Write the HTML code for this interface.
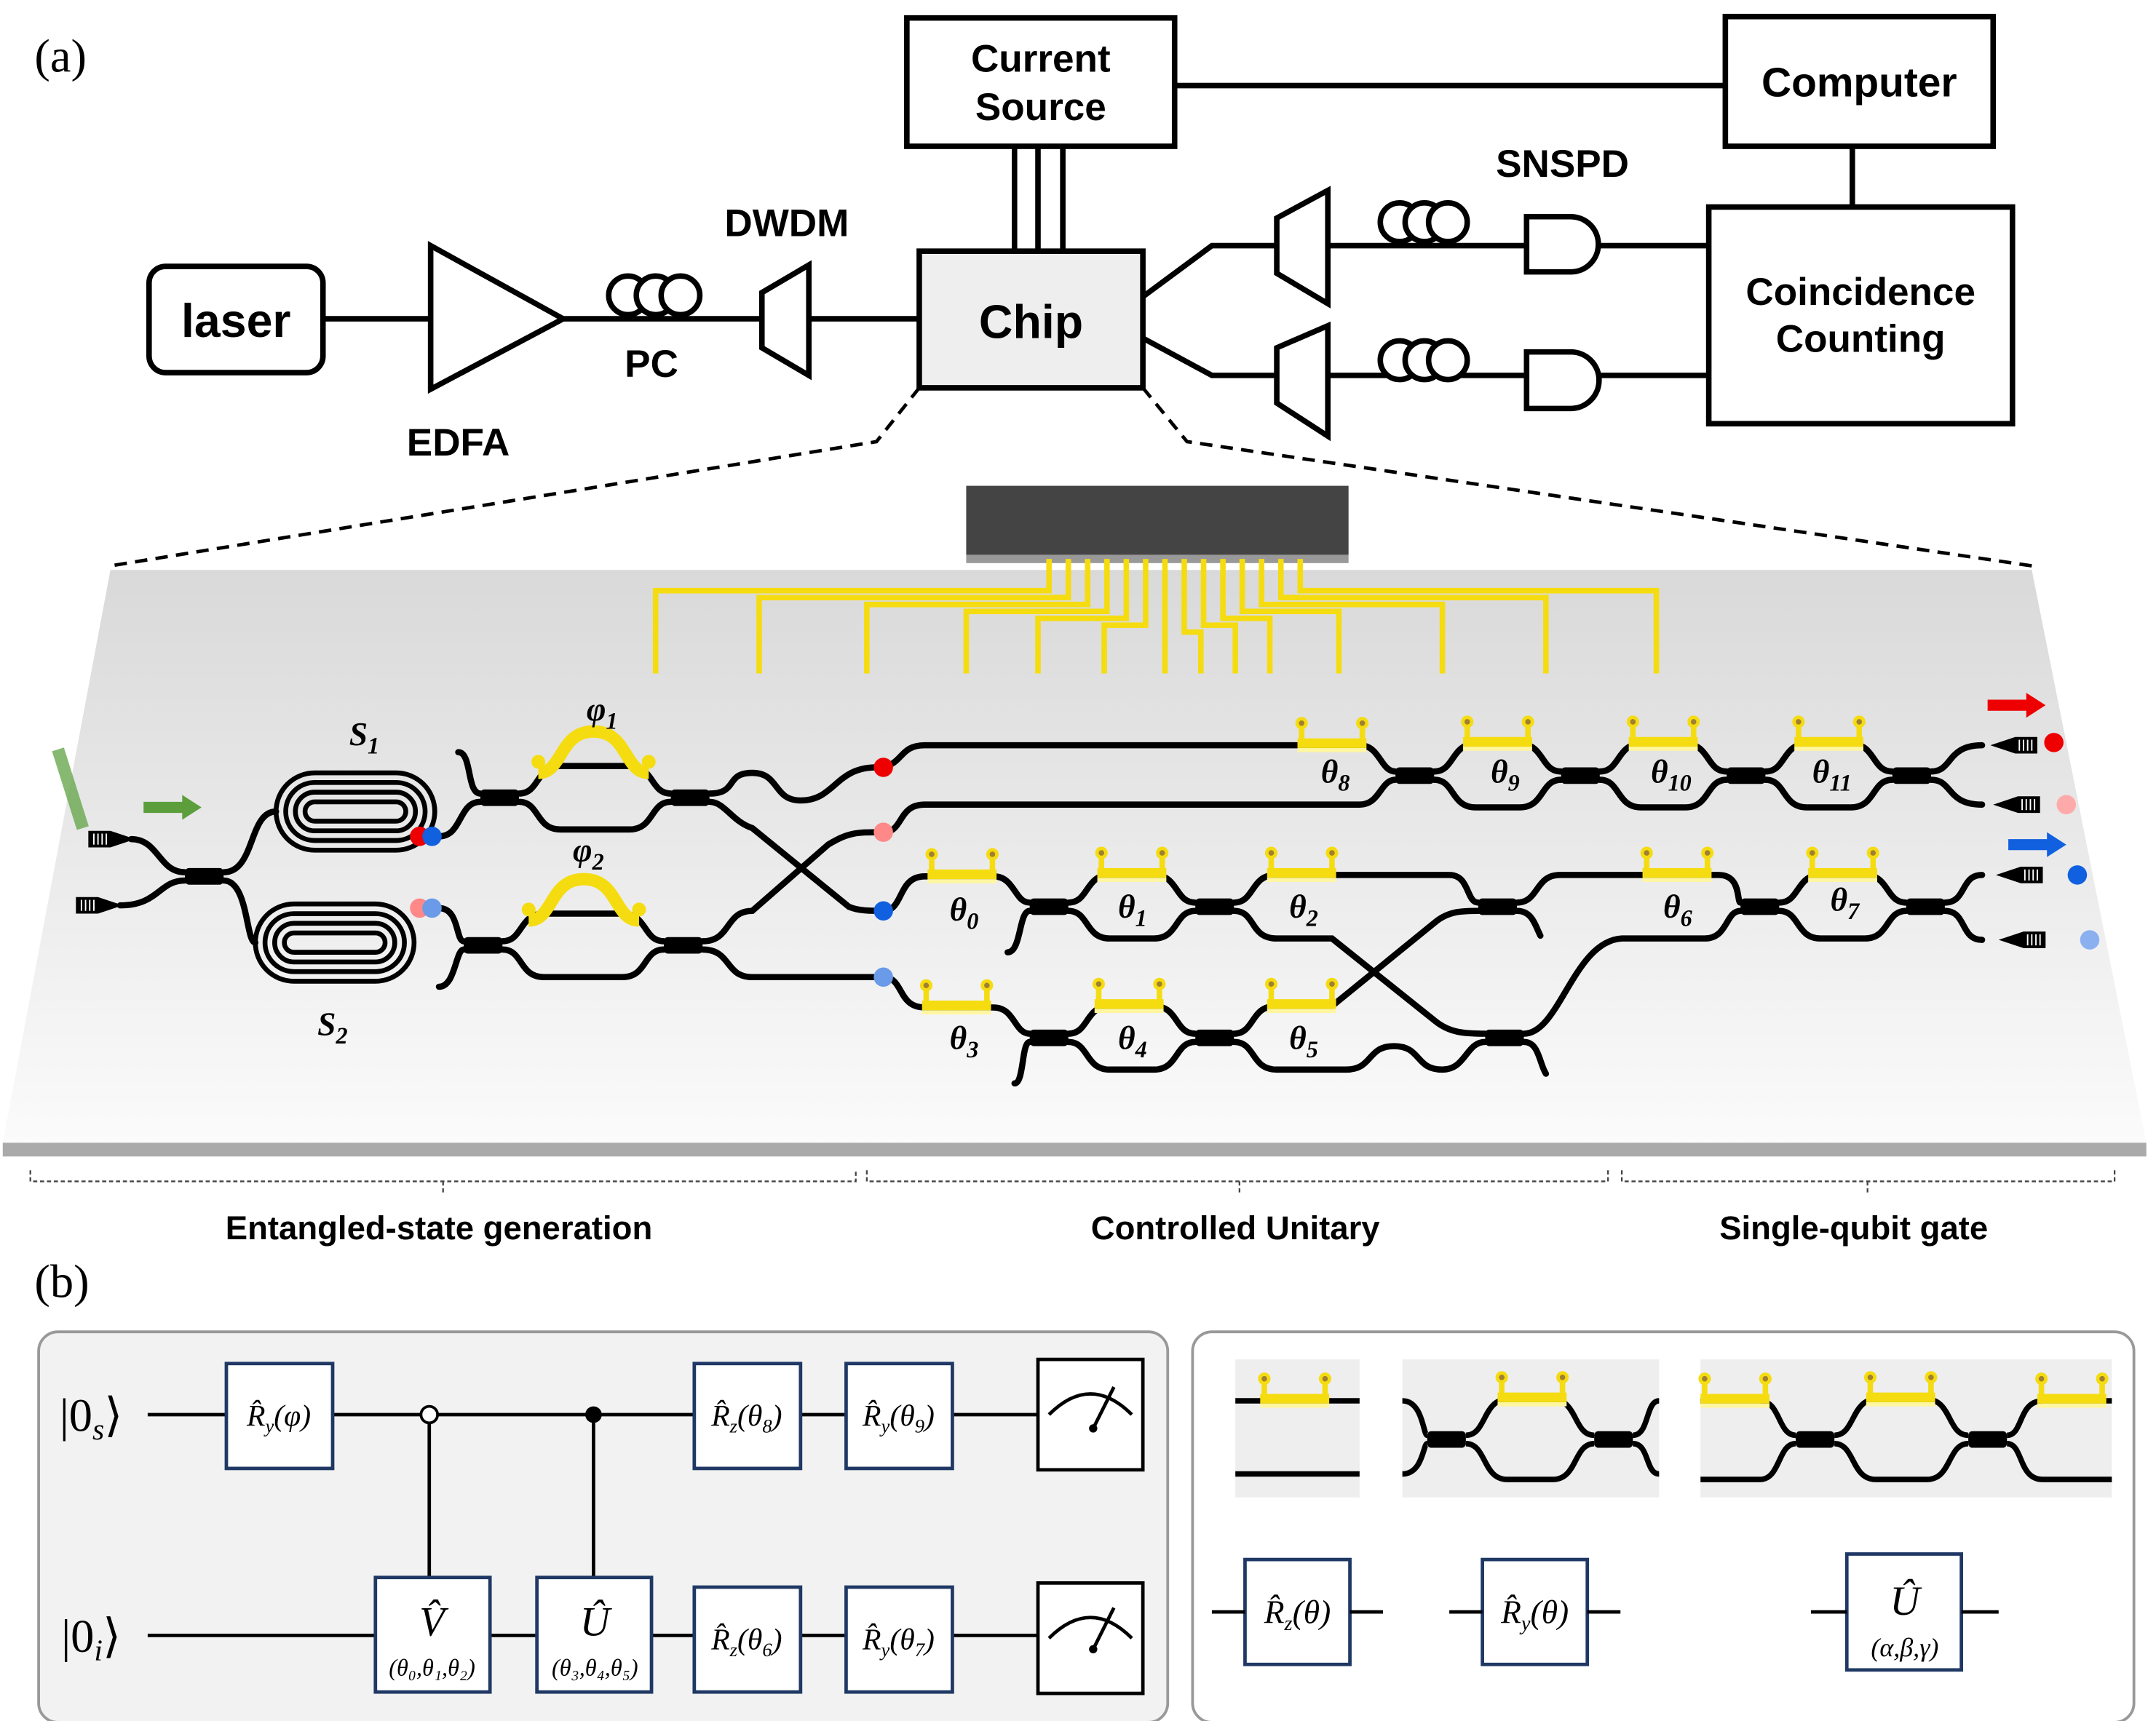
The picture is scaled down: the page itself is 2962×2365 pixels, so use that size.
<!DOCTYPE html>
<html><head><meta charset="utf-8"><style>
html,body{margin:0;padding:0;background:#fff}
svg{display:block}
.sa{font-family:"Liberation Sans","DejaVu Sans",sans-serif;font-weight:bold}
.se{font-family:"Liberation Serif","DejaVu Serif",serif}
</style></head><body>
<svg width="2962" height="2365" viewBox="0 0 1562 1247" preserveAspectRatio="none" xmlns="http://www.w3.org/2000/svg" xmlns:xlink="http://www.w3.org/1999/xlink">
<defs>
<linearGradient id="pl" x1="0" y1="0" x2="0" y2="1">
<stop offset="0" stop-color="#d9d9d9"/><stop offset="1" stop-color="#fbfbfb"/></linearGradient>
<g id="h"><rect x="0" y="-5" width="50" height="7" fill="#f5dc10"/><rect x="0" y="2" width="50" height="3" fill="#fff6a0"/>
<line x1="3" y1="-2" x2="3" y2="-13" stroke="#f5dc10" stroke-width="4"/><line x1="47" y1="-2" x2="47" y2="-13" stroke="#f5dc10" stroke-width="4"/>
<circle cx="3" cy="-16" r="4.5" fill="#f5dc10"/><circle cx="3" cy="-16" r="2" fill="#a08030"/>
<circle cx="47" cy="-16" r="4.5" fill="#f5dc10"/><circle cx="47" cy="-16" r="2" fill="#a08030"/></g>
<rect id="d" x="-14" y="-6" width="28" height="12" rx="3" fill="#000"/>
<g id="gc"><polygon points="0,-6 16,-6 34,0 16,6 0,6" fill="#000"/><g stroke="#fff" stroke-width="1"><line x1="4" y1="-4" x2="4" y2="4"/><line x1="7" y1="-4" x2="7" y2="4"/><line x1="10" y1="-4" x2="10" y2="4"/><line x1="13" y1="-4" x2="13" y2="4"/></g></g>
<g id="gcr"><polygon points="0,-6 -16,-6 -34,0 -16,6 0,6" fill="#000"/><g stroke="#fff" stroke-width="1"><line x1="-4" y1="-4" x2="-4" y2="4"/><line x1="-7" y1="-4" x2="-7" y2="4"/><line x1="-10" y1="-4" x2="-10" y2="4"/><line x1="-13" y1="-4" x2="-13" y2="4"/></g></g>
</defs>
<g fill="none" stroke="#000" stroke-width="4">
<text x="25" y="52" font-size="34" class="se" fill="#000" stroke="none">(a)</text>
<rect x="108" y="193" width="126" height="77" rx="12"/>
<text x="171" y="244" font-size="34" class="sa" fill="#000" stroke="none" text-anchor="middle">laser</text>
<line x1="234" y1="231" x2="312" y2="231"/>
<polygon points="312,178 312,282 408,231"/>
<text x="332" y="330" font-size="28" class="sa" fill="#000" stroke="none" text-anchor="middle">EDFA</text>
<line x1="408" y1="231" x2="552" y2="231"/>
<circle cx="455" cy="214" r="14" fill="#fff"/><circle cx="475" cy="214" r="14" fill="#fff"/><circle cx="493" cy="214" r="14" fill="#fff"/>
<text x="472" y="273" font-size="28" class="sa" fill="#000" stroke="none" text-anchor="middle">PC</text>
<polygon points="552,212 586,192 586,272 552,252" fill="#fff"/>
<text x="570" y="171" font-size="28" class="sa" fill="#000" stroke="none" text-anchor="middle">DWDM</text>
<line x1="586" y1="231" x2="666" y2="231"/>
<rect x="666" y="182" width="162" height="99" fill="#eee"/>
<text x="747" y="245" font-size="34" class="sa" fill="#000" stroke="none" text-anchor="middle">Chip</text>
<rect x="657" y="13" width="194" height="93" fill="#fff"/>
<text x="754" y="52" font-size="28" class="sa" fill="#000" stroke="none" text-anchor="middle">Current</text>
<text x="754" y="87" font-size="28" class="sa" fill="#000" stroke="none" text-anchor="middle">Source</text>
<line x1="735" y1="106" x2="735" y2="182"/><line x1="752" y1="106" x2="752" y2="182"/><line x1="770" y1="106" x2="770" y2="182"/>
<line x1="851" y1="62" x2="1250" y2="62"/>
<rect x="1250" y="12" width="194" height="94"/>
<text x="1347" y="70" font-size="30" class="sa" fill="#000" stroke="none" text-anchor="middle">Computer</text>
<line x1="1342" y1="106" x2="1342" y2="150"/>
<rect x="1238" y="150" width="220" height="157"/>
<text x="1348" y="221" font-size="28" class="sa" fill="#000" stroke="none" text-anchor="middle">Coincidence</text>
<text x="1348" y="255" font-size="28" class="sa" fill="#000" stroke="none" text-anchor="middle">Counting</text>
<polyline points="828,215 878,178 925,178"/><polyline points="828,245 878,272 925,272"/>
<polygon points="925,158 962,138 962,220 925,198" fill="#fff"/>
<polygon points="925,252 962,236 962,316 925,292" fill="#fff"/>
<line x1="962" y1="178" x2="1105" y2="178"/><line x1="962" y1="272" x2="1105" y2="272"/>
<circle cx="1014" cy="161" r="14" fill="#fff"/><circle cx="1032" cy="161" r="14" fill="#fff"/><circle cx="1049" cy="161" r="14" fill="#fff"/>
<circle cx="1014" cy="261" r="14" fill="#fff"/><circle cx="1032" cy="261" r="14" fill="#fff"/><circle cx="1049" cy="261" r="14" fill="#fff"/>
<path d="M1106,157 H1138 A20,20 0 0 1 1138,197 H1106 Z" fill="#fff"/>
<path d="M1106,255 H1138 A20,20 0 0 1 1138,296 H1106 Z" fill="#fff"/>
<line x1="1158" y1="178" x2="1238" y2="178"/><line x1="1158" y1="272" x2="1238" y2="272"/>
<text x="1132" y="128" font-size="28" class="sa" fill="#000" stroke="none" text-anchor="middle">SNSPD</text>
<polyline points="666,281 635,320 80,410" stroke-width="2.5" stroke-dasharray="9,6"/>
<polyline points="828,281 860,320 1472,410" stroke-width="2.5" stroke-dasharray="9,6"/>
</g>
<!-- platform -->
<polygon points="80,413 1472,413 1555,828 2,828" fill="url(#pl)"/>
<polygon points="2,828 1555,828 1555,838 2,838" fill="#aaa"/>
<rect x="700" y="352" width="277" height="50" fill="#444"/>
<rect x="700" y="402" width="277" height="6" fill="#999"/>
<!-- wires -->
<g fill="none" stroke="#f5dc10" stroke-width="4">
<path d="M760,405 V428 H475 V488"/><path d="M774,405 V433 H550 V488"/><path d="M788,405 V438 H628 V488"/>
<path d="M802,405 V443 H700 V488"/><path d="M816,405 V448 H752 V488"/><path d="M830,405 V453 H800 V488"/>
<path d="M844,405 V488"/><path d="M858,405 V458 H870 V488"/><path d="M872,405 V453 H895 V488"/>
<path d="M886,405 V448 H920 V488"/><path d="M900,405 V443 H970 V488"/><path d="M914,405 V438 H1045 V488"/>
<path d="M928,405 V433 H1120 V488"/><path d="M942,405 V428 H1200 V488"/>
</g>
<!-- waveguides -->
<g fill="none" stroke="#000" stroke-width="4.5" stroke-linecap="round">
<path d="M95,608 C115,608 115,632 134,632"/><path d="M87,656 C115,656 115,638 134,638"/>
<path d="M162,632 C185,632 180,588 200,588"/><path d="M162,638 C180,638 178,683 185,683"/>
<path d="M318,606 C335,606 332,581 348,581"/><path d="M332,545 C342,545 338,575 348,575"/>
<path d="M376,575 C391,575 388,555 406,555 L456,555 C474,555 471,575 486,575"/>
<path d="M376,581 C391,581 388,601 406,601 L456,601 C474,601 471,581 486,581"/>
<path d="M318,658 C333,658 330,682 336,682"/><path d="M318,715 C330,715 330,688 336,688"/>
<path d="M364,682 C379,682 376,662 394,662 L451,662 C469,662 466,682 481,682"/>
<path d="M364,688 C379,688 376,708 394,708 L451,708 C469,708 466,688 481,688"/>
<path d="M514,575 C535,575 525,560 545,560 C565,560 560,580 580,580 C605,580 605,556 635,556 C655,556 650,540 670,540 L985,540 C1000,540 1000,559 1011,559"/>
<path d="M514,581 C525,581 530,595 545,600 L615,657 C622,660 630,660 640,660 C655,660 650,635 670,635 L720,635 C735,635 735,654 746,654"/>
<path d="M509,682 C530,682 525,660 545,660 L600,612 C615,603 620,603 640,603 C655,603 650,583 670,583 L985,583 C1000,583 1000,565 1011,565"/>
<path d="M509,688 C530,688 525,708 545,708 L640,708 C655,708 650,730 670,730 L720,730 C735,730 735,749 746,749"/>
<path d="M730,690 C740,690 738,660 746,660"/><path d="M735,785 C742,785 740,755 746,755"/>
<!-- row A -->
<path d="M1039,559 C1054,559 1051,539 1069,539 L1101,539 C1119,539 1116,559 1131,559"/>
<path d="M1039,565 C1054,565 1051,585 1069,585 L1101,585 C1119,585 1116,565 1131,565"/>
<path d="M1159,559 C1174,559 1171,539 1189,539 L1221,539 C1239,539 1236,559 1251,559"/>
<path d="M1159,565 C1174,565 1171,585 1189,585 L1221,585 C1239,585 1236,565 1251,565"/>
<path d="M1279,559 C1294,559 1291,539 1309,539 L1341,539 C1359,539 1356,559 1371,559"/>
<path d="M1279,565 C1294,565 1291,585 1309,585 L1341,585 C1359,585 1356,565 1371,565"/>
<path d="M1399,559 C1415,559 1410,540 1436,540"/><path d="M1399,565 C1415,565 1410,583 1436,583"/>
<!-- row B -->
<path d="M774,654 C789,654 786,634 804,634 L836,634 C854,634 851,654 866,654"/>
<path d="M774,660 C789,660 786,680 804,680 L836,680 C854,680 851,660 866,660"/>
<path d="M894,654 C909,654 906,634 924,634 L1050,634 C1065,634 1062,654 1071,654"/>
<path d="M894,660 C910,660 905,680 925,680 L965,680 L1040,740 C1050,748 1060,749 1076,749"/>
<path d="M1099,654 C1115,654 1112,634 1130,634 L1245,634 C1262,634 1258,654 1261,654"/>
<path d="M1104,749 C1130,749 1140,682 1175,680 L1235,680 C1252,680 1250,660 1261,660"/>
<path d="M1289,654 C1304,654 1301,634 1319,634 L1351,634 C1369,634 1366,654 1381,654"/>
<path d="M1289,660 C1304,660 1301,680 1319,680 L1351,680 C1369,680 1366,660 1381,660"/>
<path d="M1409,654 C1425,654 1420,634 1436,634"/><path d="M1409,660 C1425,660 1420,681 1436,681"/>
<!-- row C -->
<path d="M774,749 C789,749 786,729 804,729 L836,729 C854,729 851,749 866,749"/>
<path d="M774,755 C789,755 786,775 804,775 L836,775 C854,775 851,755 866,755"/>
<path d="M894,749 C909,749 906,729 924,729 L965,729 L1040,668 C1050,660 1060,660 1071,660"/>
<path d="M894,755 C910,755 906,775 925,775 L975,775 C995,775 990,758 1010,758 C1030,758 1025,775 1045,775 C1062,775 1062,755 1076,755"/>
<path d="M1099,660 C1110,660 1112,670 1116,678"/><path d="M1104,755 C1115,755 1115,770 1120,778"/>
</g>
<g>
<use xlink:href="#d" x="148" y="635"/><use xlink:href="#d" x="362" y="578"/><use xlink:href="#d" x="500" y="578"/>
<use xlink:href="#d" x="350" y="685"/><use xlink:href="#d" x="495" y="685"/>
<use xlink:href="#d" x="1025" y="562"/><use xlink:href="#d" x="1145" y="562"/><use xlink:href="#d" x="1265" y="562"/><use xlink:href="#d" x="1385" y="562"/>
<use xlink:href="#d" x="760" y="657"/><use xlink:href="#d" x="880" y="657"/><use xlink:href="#d" x="1085" y="657"/>
<use xlink:href="#d" x="1275" y="657"/><use xlink:href="#d" x="1395" y="657"/>
<use xlink:href="#d" x="760" y="752"/><use xlink:href="#d" x="880" y="752"/><use xlink:href="#d" x="1090" y="752"/>
</g>
<!-- heaters -->
<g>
<use xlink:href="#h" x="940" y="540"/><use xlink:href="#h" x="1060" y="539"/><use xlink:href="#h" x="1180" y="539"/><use xlink:href="#h" x="1300" y="539"/>
<use xlink:href="#h" x="672" y="635"/><use xlink:href="#h" x="795" y="634"/><use xlink:href="#h" x="918" y="634"/><use xlink:href="#h" x="1190" y="634"/><use xlink:href="#h" x="1310" y="634"/>
<use xlink:href="#h" x="668" y="730"/><use xlink:href="#h" x="793" y="729"/><use xlink:href="#h" x="918" y="729"/>
</g>
<g fill="none" stroke="#f5dc10" stroke-width="9">
<path d="M390,560 C408,560 405,530 430,530 C455,530 452,560 470,560"/>
<path d="M383,667 C401,667 398,637 423,637 C448,637 445,667 463,667"/>
</g>
<g fill="#f5dc10"><circle cx="390" cy="552" r="5"/><circle cx="470" cy="552" r="5"/><circle cx="383" cy="659" r="5"/><circle cx="463" cy="659" r="5"/></g>
<!-- spirals -->
<g fill="none" stroke="#000" stroke-width="3.5">
<rect x="200" y="560" width="115" height="56" rx="28"/><rect x="207" y="567" width="101" height="42" rx="21"/><rect x="214" y="574" width="87" height="28" rx="14"/><rect x="221" y="581" width="73" height="14" rx="7"/>
<rect x="185" y="655" width="115" height="56" rx="28"/><rect x="192" y="662" width="101" height="42" rx="21"/><rect x="199" y="669" width="87" height="28" rx="14"/><rect x="206" y="676" width="73" height="14" rx="7"/>
</g>
<use xlink:href="#gc" x="64" y="608"/><use xlink:href="#gc" x="55" y="656"/>
<use xlink:href="#gcr" x="1476" y="540"/><use xlink:href="#gcr" x="1478" y="583"/><use xlink:href="#gcr" x="1480" y="634"/><use xlink:href="#gcr" x="1482" y="681"/>
<line x1="42" y1="543" x2="60" y2="600" stroke="#6aa84f" stroke-width="9" opacity="0.8"/>
<polygon points="104,581 132,581 132,576 146,585 132,594 132,589 104,589" fill="#5c9e3c"/>
<polygon points="1440,507 1468,507 1468,502 1482,511 1468,520 1468,515 1440,515" fill="#e00"/>
<polygon points="1455,608 1483,608 1483,603 1497,612 1483,621 1483,616 1455,616" fill="#1060e0"/>
<g>
<circle cx="304" cy="606" r="7" fill="#e00"/><circle cx="313" cy="606" r="7" fill="#1060e0"/>
<circle cx="304" cy="658" r="7" fill="#f88"/><circle cx="313" cy="658" r="7" fill="#6a9ae8"/>
<circle cx="640" cy="556" r="7" fill="#e00"/><circle cx="640" cy="603" r="7" fill="#f88"/>
<circle cx="640" cy="660" r="7" fill="#1060e0"/><circle cx="640" cy="708" r="7" fill="#6a9ae8"/>
<circle cx="1488" cy="538" r="7" fill="#e00"/><circle cx="1497" cy="583" r="7" fill="#faa"/>
<circle cx="1505" cy="634" r="7" fill="#1060e0"/><circle cx="1514" cy="681" r="7" fill="#8ab0f0"/>
</g>
<g class="se" font-style="italic" font-weight="bold" font-size="24" fill="#000">
<text x="253" y="540">S<tspan font-size="17" dy="6">1</tspan></text>
<text x="230" y="750">S<tspan font-size="17" dy="6">2</tspan></text>
<text x="425" y="522">φ<tspan font-size="17" dy="6">1</tspan></text>
<text x="415" y="624">φ<tspan font-size="17" dy="6">2</tspan></text>
<text x="688" y="667">θ<tspan font-size="17" dy="6">0</tspan></text>
<text x="810" y="665">θ<tspan font-size="17" dy="6">1</tspan></text>
<text x="934" y="665">θ<tspan font-size="17" dy="6">2</tspan></text>
<text x="688" y="760">θ<tspan font-size="17" dy="6">3</tspan></text>
<text x="810" y="760">θ<tspan font-size="17" dy="6">4</tspan></text>
<text x="934" y="760">θ<tspan font-size="17" dy="6">5</tspan></text>
<text x="1205" y="665">θ<tspan font-size="17" dy="6">6</tspan></text>
<text x="1326" y="660">θ<tspan font-size="17" dy="6">7</tspan></text>
<text x="957" y="567">θ<tspan font-size="17" dy="6">8</tspan></text>
<text x="1080" y="567">θ<tspan font-size="17" dy="6">9</tspan></text>
<text x="1196" y="567">θ<tspan font-size="17" dy="6">10</tspan></text>
<text x="1313" y="567">θ<tspan font-size="17" dy="6">11</tspan></text>
</g>
<g fill="none" stroke="#444" stroke-width="1.2" stroke-dasharray="3,2">
<polyline points="22,848 22,856 620,856 620,848"/><line x1="321" y1="856" x2="321" y2="864"/>
<polyline points="628,848 628,856 1165,856 1165,848"/><line x1="898" y1="856" x2="898" y2="864"/>
<polyline points="1175,848 1175,856 1532,856 1532,848"/><line x1="1353" y1="856" x2="1353" y2="864"/>
</g>
<g font-size="24" class="sa" fill="#000" text-anchor="middle">
<text x="318" y="898">Entangled-state generation</text>
<text x="895" y="898">Controlled Unitary</text>
<text x="1343" y="898">Single-qubit gate</text>
</g>
<text x="25" y="940" font-size="34" class="se" fill="#000">(b)</text>
<rect x="28" y="965" width="818" height="283" rx="14" fill="#f2f2f2" stroke="#999" stroke-width="2"/>
<rect x="864" y="965" width="682" height="283" rx="14" fill="#fff" stroke="#999" stroke-width="2"/>
<g stroke="#000" stroke-width="2.5" fill="none">
<line x1="107" y1="1025" x2="752" y2="1025"/><line x1="107" y1="1185" x2="752" y2="1185"/>
<line x1="311" y1="1025" x2="311" y2="1143"/><line x1="430" y1="1025" x2="430" y2="1143"/>
</g>
<circle cx="311" cy="1025" r="6" fill="#fff" stroke="#000" stroke-width="2"/>
<circle cx="430" cy="1025" r="6" fill="#000"/>
<g fill="#fff" stroke="#1f3864" stroke-width="2.5">
<rect x="164" y="988" width="77" height="76"/><rect x="503" y="988" width="77" height="76"/><rect x="613" y="988" width="77" height="76"/>
<rect x="272" y="1143" width="83" height="83"/><rect x="389" y="1143" width="83" height="83"/>
<rect x="503" y="1150" width="77" height="76"/><rect x="613" y="1150" width="77" height="76"/>
<rect x="902" y="1130" width="76" height="76"/><rect x="1074" y="1130" width="76" height="76"/><rect x="1338" y="1126" width="83" height="84"/>
</g>
<g stroke="#000" stroke-width="2.5" fill="#fff">
<rect x="752" y="985" width="76" height="80"/><rect x="752" y="1147" width="76" height="80"/>
<path d="M760,1025 Q790,995 820,1025" fill="none"/><line x1="792" y1="1035" x2="807" y2="1005"/>
<path d="M760,1187 Q790,1157 820,1187" fill="none"/><line x1="792" y1="1195" x2="807" y2="1165"/>
<line x1="878" y1="1168" x2="902" y2="1168"/><line x1="978" y1="1168" x2="1002" y2="1168"/>
<line x1="1050" y1="1168" x2="1074" y2="1168"/><line x1="1150" y1="1168" x2="1174" y2="1168"/>
<line x1="1312" y1="1168" x2="1338" y2="1168"/><line x1="1421" y1="1168" x2="1448" y2="1168"/>
</g>
<circle cx="792" cy="1035" r="3" fill="#000"/><circle cx="792" cy="1195" r="3" fill="#000"/>
<g class="se" font-style="italic" fill="#000" text-anchor="middle">
<text x="66" y="1037" font-size="34" font-style="normal">|0<tspan font-style="italic" font-size="22" dy="6">s</tspan><tspan dy="-6">⟩</tspan></text>
<text x="66" y="1197" font-size="34" font-style="normal">|0<tspan font-style="italic" font-size="22" dy="6">i</tspan><tspan dy="-6">⟩</tspan></text>
<text x="202" y="1033" font-size="22">R̂<tspan font-size="14" dy="5">y</tspan><tspan dy="-5">(φ)</tspan></text>
<text x="541" y="1033" font-size="22">R̂<tspan font-size="14" dy="5">z</tspan><tspan dy="-5">(θ</tspan><tspan font-size="14" dy="5">8</tspan><tspan dy="-5">)</tspan></text>
<text x="651" y="1033" font-size="22">R̂<tspan font-size="14" dy="5">y</tspan><tspan dy="-5">(θ</tspan><tspan font-size="14" dy="5">9</tspan><tspan dy="-5">)</tspan></text>
<text x="541" y="1195" font-size="22">R̂<tspan font-size="14" dy="5">z</tspan><tspan dy="-5">(θ</tspan><tspan font-size="14" dy="5">6</tspan><tspan dy="-5">)</tspan></text>
<text x="651" y="1195" font-size="22">R̂<tspan font-size="14" dy="5">y</tspan><tspan dy="-5">(θ</tspan><tspan font-size="14" dy="5">7</tspan><tspan dy="-5">)</tspan></text>
<text x="313" y="1185" font-size="30">V̂</text>
<text x="313" y="1214" font-size="17">(θ₀,θ₁,θ₂)</text>
<text x="431" y="1185" font-size="30">Û</text>
<text x="431" y="1214" font-size="17">(θ₃,θ₄,θ₅)</text>
<text x="940" y="1176" font-size="24">R̂<tspan font-size="15" dy="5">z</tspan><tspan dy="-5">(θ)</tspan></text>
<text x="1112" y="1176" font-size="24">R̂<tspan font-size="15" dy="5">y</tspan><tspan dy="-5">(θ)</tspan></text>
<text x="1380" y="1170" font-size="30">Û</text>
<text x="1380" y="1200" font-size="19">(α,β,γ)</text>
</g>
<!-- right panel icons -->
<rect x="895" y="985" width="90" height="100" fill="#eee"/>
<rect x="1016" y="985" width="186" height="100" fill="#eee"/>
<rect x="1232" y="985" width="298" height="100" fill="#eee"/>
<g fill="none" stroke="#000" stroke-width="4">
<path d="M895,1015 H985"/><path d="M895,1068 H985"/>
<path d="M1016,1015 C1031,1015 1031,1040 1034,1040"/><path d="M1016,1068 C1031,1068 1031,1046 1034,1046"/>
<path d="M1062,1040 C1077,1040 1074,1014 1092,1014 L1125,1014 C1143,1014 1140,1040 1155,1040"/>
<path d="M1062,1046 C1077,1046 1074,1072 1092,1072 L1125,1072 C1143,1072 1140,1046 1155,1046"/>
<path d="M1183,1040 C1195,1040 1192,1015 1202,1015"/><path d="M1183,1046 C1195,1046 1192,1068 1202,1068"/>
<path d="M1232,1015 H1275 C1290,1015 1288,1040 1301,1040"/><path d="M1232,1072 H1275 C1290,1072 1288,1046 1301,1046"/>
<path d="M1329,1040 C1344,1040 1341,1014 1359,1014 L1396,1014 C1414,1014 1411,1040 1426,1040"/>
<path d="M1329,1046 C1344,1046 1341,1072 1359,1072 L1396,1072 C1414,1072 1411,1046 1426,1046"/>
<path d="M1454,1040 C1466,1040 1462,1015 1480,1015 H1530"/><path d="M1454,1046 C1466,1046 1462,1072 1480,1072 H1530"/>
</g>
<use xlink:href="#d" x="1048" y="1043"/><use xlink:href="#d" x="1169" y="1043"/>
<use xlink:href="#d" x="1315" y="1043"/><use xlink:href="#d" x="1440" y="1043"/>
<use xlink:href="#h" x="913" y="1015"/><use xlink:href="#h" x="1085" y="1014"/>
<use xlink:href="#h" x="1232" y="1015"/><use xlink:href="#h" x="1352" y="1014"/><use xlink:href="#h" x="1476" y="1015"/>
</svg>
</body></html>
